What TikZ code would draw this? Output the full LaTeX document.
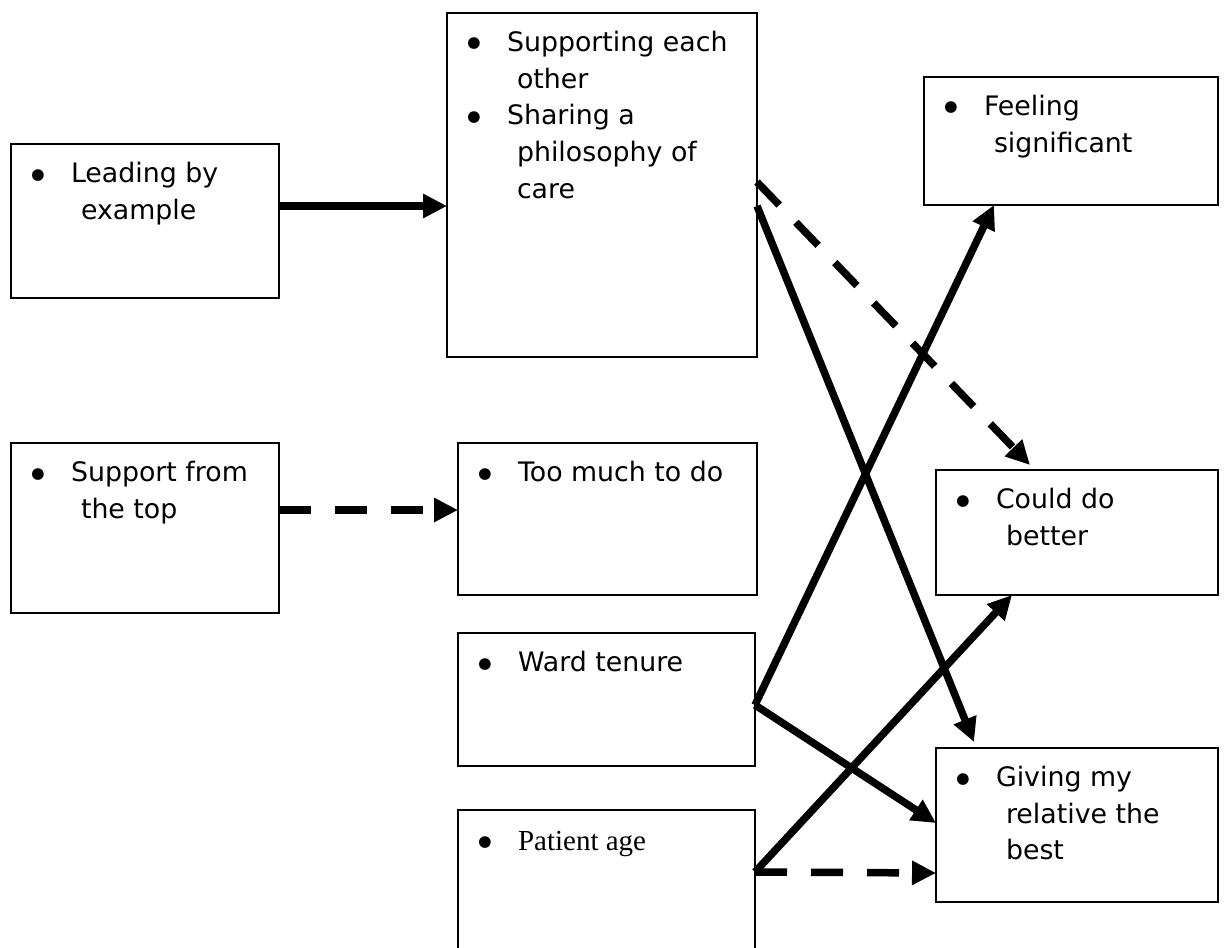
\documentclass[tikz,border=0pt]{standalone}
\usepackage{graphicx}
\usepackage{fontspec}
\setmainfont{DejaVu Sans}
\newfontfamily\serifface{Liberation Serif}
\usetikzlibrary{arrows.meta,calc}

% bullet column: enlarged dot centred in a 14pt slot, text starts 40pt from the left
\newcommand\bulletmark{\makebox[14pt][c]{\raisebox{-7.5pt}{\scalebox{1.5}{\char"2022}}}\hspace{26pt}}
\newcommand\contline{\hspace*{50pt}}
\newcommand\boxtext[1]{\begin{minipage}[t]{280pt}\setlength\parindent{0pt}\fontsize{26.8}{36.7}\selectfont #1\end{minipage}}

\tikzset{
  itembox/.style={draw, line width=1.3pt, inner sep=0pt, outer sep=0pt, anchor=north west},
  itemtext/.style={anchor=base west, inner sep=0pt, outer sep=0pt},
  link/.style={line width=7.5pt, -{Triangle[length=24pt,width=23pt]}},
  dashlink/.style={link, dash pattern=on 32pt off 24pt}
}

\begin{document}
\begin{tikzpicture}[x=1pt,y=-1pt]
\useasboundingbox (0,0) rectangle (1225,947);
\clip (0,0) rectangle (1225,947);

% boxes
\node[itembox, minimum width=268pt, minimum height=154pt] (lead)  at (11,144) {};
\node[itembox, minimum width=310pt, minimum height=344pt] (sup)   at (447,13) {};
\node[itembox, minimum width=294pt, minimum height=128pt] (feel)  at (924,77) {};
\node[itembox, minimum width=268pt, minimum height=170pt] (top)   at (11,443) {};
\node[itembox, minimum width=299pt, minimum height=152pt] (much)  at (458,443) {};
\node[itembox, minimum width=282pt, minimum height=125pt] (could) at (936,470) {};
\node[itembox, minimum width=297pt, minimum height=133pt] (ward)  at (458,633) {};
\node[itembox, minimum width=282pt, minimum height=154pt] (give)  at (936,748) {};
\node[itembox, minimum width=297pt, minimum height=180pt] (age)   at (458,810) {};

% texts
\node[itemtext] (leadtxt)  at ($(lead.north west)+(20,38.5)$)  {\boxtext{\bulletmark Leading by\\\contline example}};
\node[itemtext] (suptxt)   at ($(sup.north west)+(20,38.5)$)   {\boxtext{\bulletmark Supporting each\\\contline other\\\bulletmark Sharing a\\\contline philosophy of\\\contline care}};
\node[itemtext] (feeltxt)  at ($(feel.north west)+(20,38.5)$)  {\boxtext{\bulletmark Feeling\\\contline significant}};
\node[itemtext] (toptxt)   at ($(top.north west)+(20,38.5)$)   {\boxtext{\bulletmark Support from\\\contline the top}};
\node[itemtext] (muchtxt)  at ($(much.north west)+(20,38.5)$)  {\boxtext{\bulletmark Too much to do}};
\node[itemtext] (couldtxt) at ($(could.north west)+(20,38.5)$) {\boxtext{\bulletmark Could do\\\contline better}};
\node[itemtext] (wardtxt)  at ($(ward.north west)+(20,38.5)$)  {\boxtext{\bulletmark Ward tenure}};
\node[itemtext] (givetxt)  at ($(give.north west)+(20,38.5)$)  {\boxtext{\bulletmark Giving my\\\contline relative the\\\contline best}};
\node[itemtext] (agetxt)   at ($(age.north west)+(20,40)$)     {\boxtext{\bulletmark{\serifface\fontsize{29}{36}\selectfont Patient age}}};

% connectors
\draw[link]     ($(lead.north east)+(0,62)$)  -- ($(sup.north west)+(0,193)$);
\draw[dashlink] ($(top.north east)+(0,67)$)   -- ($(much.north west)+(0,67)$);
\draw[dashlink] ($(sup.north east)+(0,169)$)  -- ($(could.north west)+(94,-5)$);
\draw[link]     ($(sup.north east)+(0,193)$)  -- ($(give.north west)+(38,-6)$);
\draw[link]     ($(ward.north east)+(0,72)$)  -- ($(feel.south west)+(70,0)$);
\draw[link]     ($(ward.north east)+(0,72)$)  -- ($(give.north west)+(0,75)$);
\draw[link]     ($(age.north east)+(0,62)$)   -- ($(could.south west)+(76,0)$);
\draw[dashlink] ($(age.north east)+(0,62)$)   -- ($(give.north west)+(0,125)$);
\end{tikzpicture}
\end{document}
